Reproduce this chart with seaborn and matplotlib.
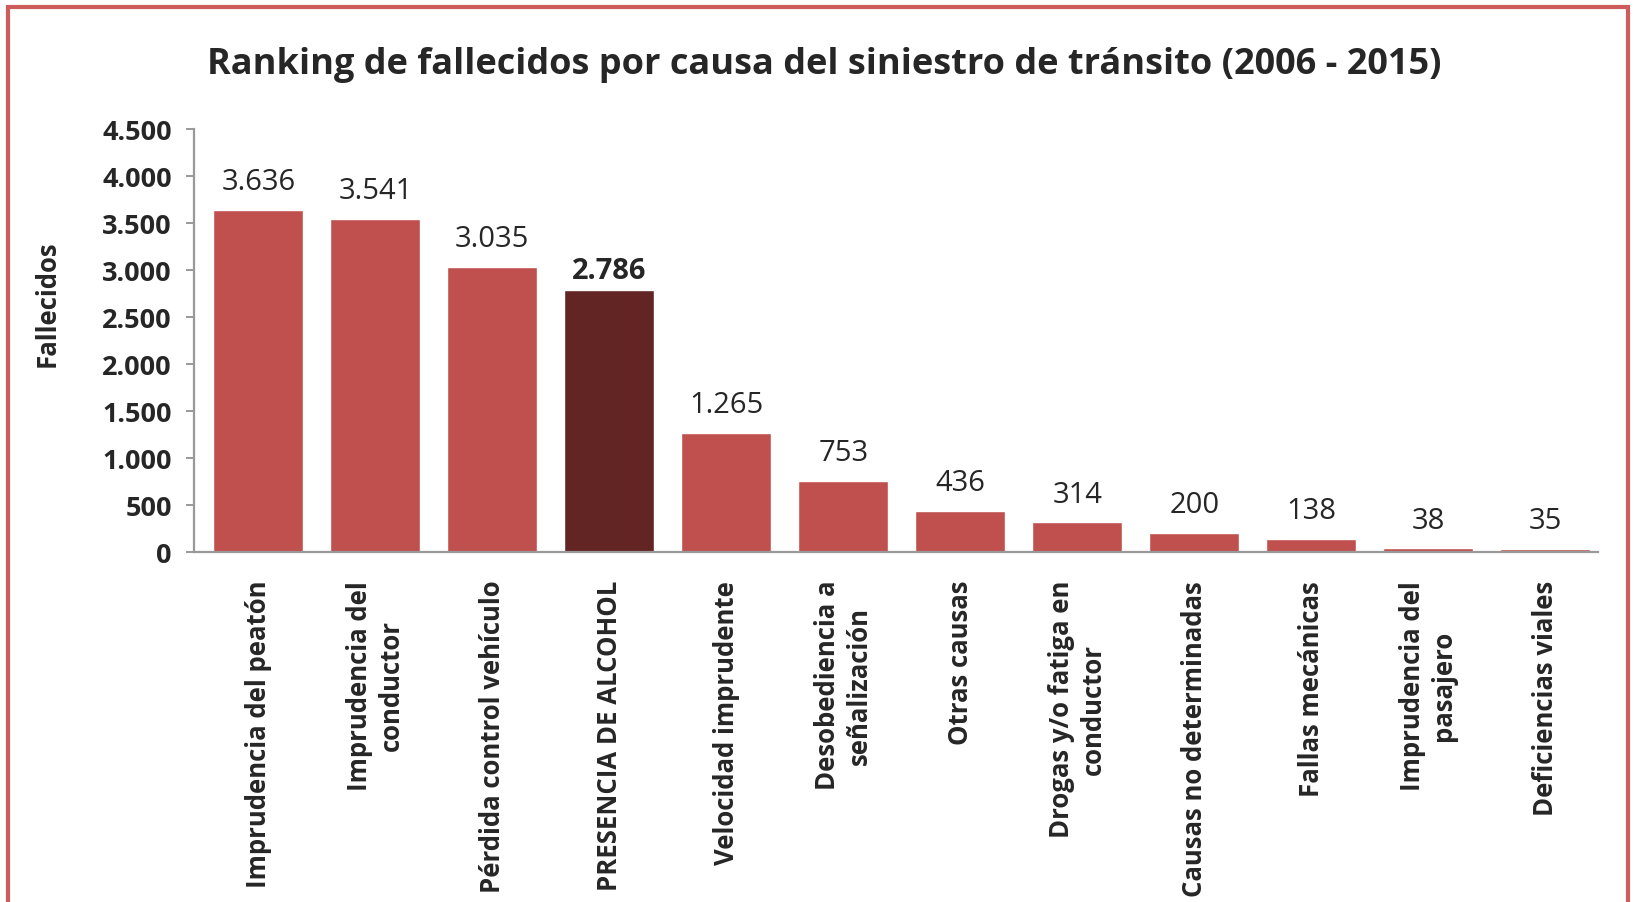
import matplotlib
matplotlib.use("Agg")
import matplotlib.pyplot as plt
import matplotlib.patches as mpatches
import seaborn as sns
import pandas as pd

categorias = [
    "Imprudencia del peatón",
    "Imprudencia del\nconductor",
    "Pérdida control vehículo",
    "PRESENCIA DE ALCOHOL",
    "Velocidad imprudente",
    "Desobediencia a\nseñalización",
    "Otras causas",
    "Drogas y/o fatiga en\nconductor",
    "Causas no determinadas",
    "Fallas mecánicas",
    "Imprudencia del\npasajero",
    "Deficiencias viales",
]
fallecidos = [3636, 3541, 3035, 2786, 1265, 753, 436, 314, 200, 138, 38, 35]
destacado = "PRESENCIA DE ALCOHOL"
yticks = [0, 500, 1000, 1500, 2000, 2500, 3000, 3500, 4000, 4500]

sns.set_theme(style="white")
plt.rcParams['font.family'] = ['Open Sans', 'DejaVu Sans']

def fmt(v):
    return f"{v:,}".replace(",", ".")

df = pd.DataFrame({"causa": categorias, "valor": fallecidos})
palette = {c: ("#632523" if c == destacado else "#C0504D") for c in categorias}

fig = plt.figure(figsize=(16.36, 9.03), dpi=100)
ax = fig.add_axes([194/1636, 1 - 553/903, (1598-194)/1636, (553-130)/903])

sns.barplot(data=df, x="causa", y="valor", hue="causa", palette=palette,
            legend=False, width=0.77, saturation=1, ax=ax)

ax.set_ylim(0, 4500)
ax.set_yticks(yticks)
ax.set_yticklabels([fmt(v) for v in yticks], fontsize=19.5, fontweight="bold")
ax.set_xlim(-0.55, len(categorias) - 0.55)
ax.set_xticks(range(len(categorias)))
ax.set_xticklabels(categorias, rotation=90, fontsize=18.5, fontweight="bold",
                   ha="center", va="top", multialignment="center")
ax.tick_params(axis="y", length=6, width=1.2, color="#888888", pad=10, left=True)
ax.tick_params(axis="x", length=0, pad=20)
ax.set_xlabel("")
ax.set_ylabel("Fallecidos", fontsize=18.5, fontweight="bold")
ax.yaxis.set_label_coords(-0.095, 0.59)

for s in ["top", "right"]:
    ax.spines[s].set_visible(False)
for s in ["left", "bottom"]:
    ax.spines[s].set_color("#999999")
    ax.spines[s].set_linewidth(1.6)

for i, cont in enumerate(ax.containers):
    val = df["valor"].iloc[i]
    name = df["causa"].iloc[i]
    bold = name == destacado
    ax.bar_label(cont, labels=[fmt(val)], padding=(4 if bold else 10), fontsize=21,
                 fontweight=("bold" if bold else "normal"))

fig.suptitle("Ranking de fallecidos por causa del siniestro de tránsito (2006 - 2015)",
             x=824/1636, y=1 - 65/903, va="center", fontsize=26, fontweight="bold")

border = mpatches.Rectangle((8/1636, -0.2), (1628-8)/1636, 1.2 - 8/903,
                            transform=fig.transFigure, fill=False,
                            edgecolor="#CD5C5C", linewidth=3, clip_on=False)
fig.patches.append(border)

fig.savefig("out.png", dpi=100)
